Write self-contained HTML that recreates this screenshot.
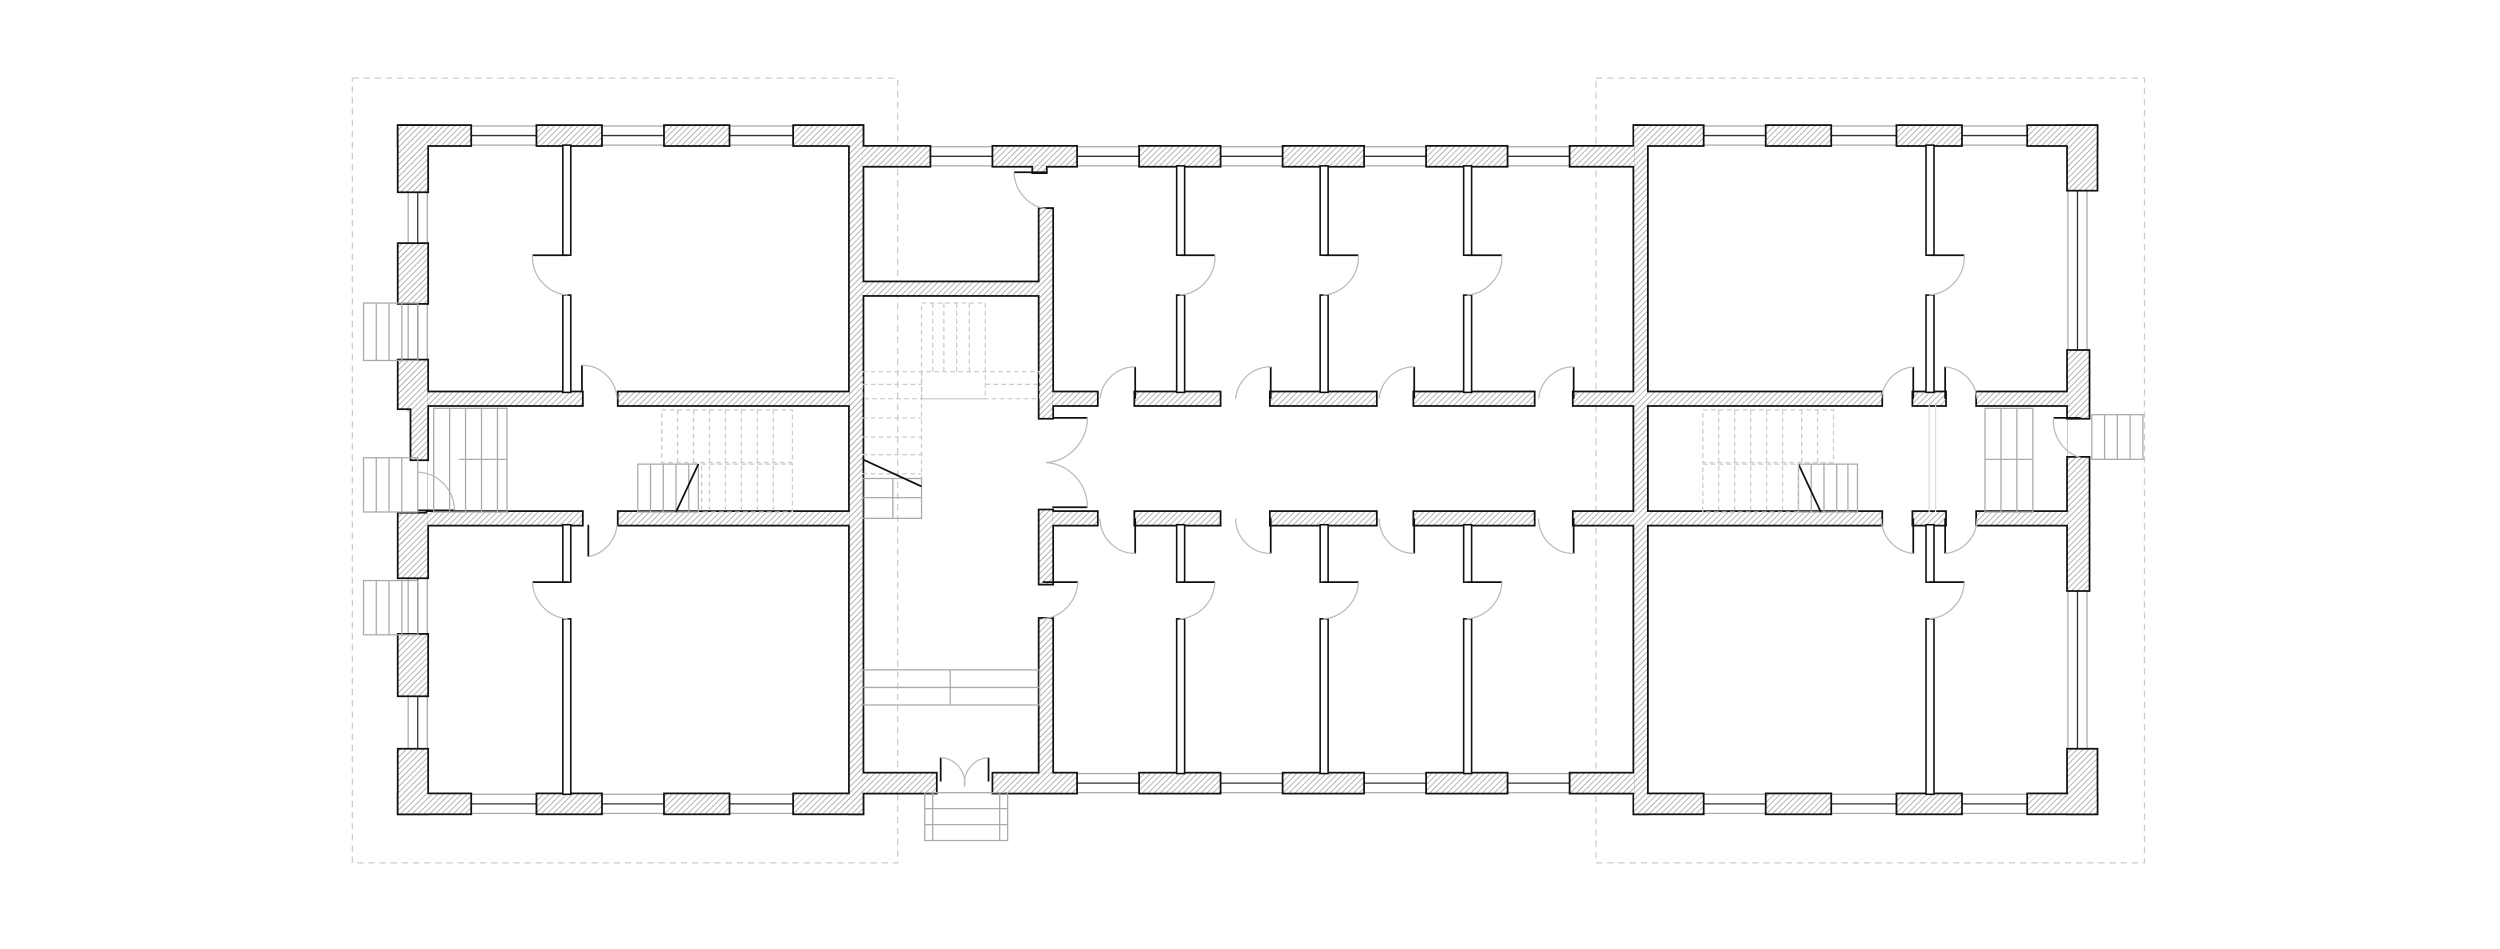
<!DOCTYPE html>
<html><head><meta charset="utf-8"><style>
html,body{margin:0;padding:0;background:#fff;width:2500px;height:949px;overflow:hidden}
svg{display:block}
.p{fill:#fff;stroke:#111;stroke-width:1}
.g{fill:none;stroke:#aaa;stroke-width:0.8}
.d{fill:none;stroke:#ccc;stroke-width:0.8;stroke-dasharray:3 2}
.a{fill:none;stroke:#bbb;stroke-width:0.8}
.k{fill:none;stroke:#111;stroke-width:1.1}
.wl{stroke:#333;stroke-width:0.8}
</style></head><body>
<svg width="2500" height="949" viewBox="0 0 1568 595" preserveAspectRatio="none" xmlns="http://www.w3.org/2000/svg" xmlns:xlink="http://www.w3.org/1999/xlink">
<defs>
<pattern id="h" width="2.6" height="2.6" patternUnits="userSpaceOnUse" patternTransform="rotate(45)">
<rect width="2.6" height="2.6" fill="#fff"/><line x1="0" y1="0" x2="0" y2="2.6" stroke="#999" stroke-width="0.9"/>
</pattern>
<g id="W">
<!-- left block -->
<rect x="250" y="79" width="45" height="12"/>
<rect x="337" y="79" width="40" height="12"/>
<rect x="417" y="79" width="40" height="12"/>
<rect x="498" y="79" width="43" height="12"/>
<rect x="250" y="498" width="45" height="12"/>
<rect x="337" y="498" width="40" height="12"/>
<rect x="417" y="498" width="40" height="12"/>
<rect x="498" y="498" width="43" height="12"/>
<rect x="250" y="79" width="18" height="41"/>
<rect x="250" y="153" width="18" height="37"/>
<rect x="250" y="226" width="18" height="30"/>
<rect x="258" y="254" width="10" height="34"/>
<rect x="250" y="322" width="18" height="40"/>
<rect x="250" y="398" width="18" height="38"/>
<rect x="250" y="470" width="18" height="40"/>
<rect x="533" y="79" width="8" height="431"/>
<rect x="268" y="246" width="97" height="8"/>
<rect x="388" y="246" width="145" height="8"/>
<rect x="268" y="321" width="97" height="8"/>
<rect x="388" y="321" width="145" height="8"/>
<!-- center -->
<rect x="541" y="92" width="42" height="12"/>
<rect x="623" y="92" width="52" height="12"/>
<rect x="715" y="92" width="50" height="12"/>
<rect x="805" y="92" width="50" height="12"/>
<rect x="895" y="92" width="50" height="12"/>
<rect x="985" y="92" width="40" height="12"/>
<rect x="648" y="104" width="8" height="4"/>
<rect x="541" y="485" width="46" height="12"/>
<rect x="623" y="485" width="52" height="12"/>
<rect x="715" y="485" width="50" height="12"/>
<rect x="805" y="485" width="50" height="12"/>
<rect x="895" y="485" width="50" height="12"/>
<rect x="985" y="485" width="40" height="12"/>
<rect x="652" y="131" width="8" height="131"/>
<rect x="541" y="177" width="111" height="8"/>
<rect x="652" y="320" width="8" height="46"/>
<rect x="652" y="388" width="8" height="97"/>
<rect x="660" y="246" width="28" height="8"/>
<rect x="712" y="246" width="53" height="8"/>
<rect x="797" y="246" width="66" height="8"/>
<rect x="887" y="246" width="75" height="8"/>
<rect x="987" y="246" width="46" height="8"/>
<rect x="660" y="321" width="28" height="8"/>
<rect x="712" y="321" width="53" height="8"/>
<rect x="797" y="321" width="66" height="8"/>
<rect x="887" y="321" width="75" height="8"/>
<rect x="987" y="321" width="46" height="8"/>
<!-- right block -->
<rect x="1025" y="79" width="8" height="431"/>
<rect x="1025" y="79" width="43" height="12"/>
<rect x="1108" y="79" width="40" height="12"/>
<rect x="1190" y="79" width="40" height="12"/>
<rect x="1272" y="79" width="43" height="12"/>
<rect x="1025" y="498" width="43" height="12"/>
<rect x="1108" y="498" width="40" height="12"/>
<rect x="1190" y="498" width="40" height="12"/>
<rect x="1272" y="498" width="43" height="12"/>
<rect x="1297" y="79" width="18" height="40"/>
<rect x="1297" y="220" width="13" height="42"/>
<rect x="1297" y="287" width="13" height="83"/>
<rect x="1297" y="470" width="18" height="40"/>
<rect x="1033" y="246" width="147" height="8"/>
<rect x="1200" y="246" width="20" height="8"/>
<rect x="1240" y="246" width="57" height="8"/>
<rect x="1033" y="321" width="147" height="8"/>
<rect x="1200" y="321" width="20" height="8"/>
<rect x="1240" y="321" width="57" height="8"/>
</g>
</defs>
<!-- dashed outlines -->
<rect x="221" y="49" width="342" height="492" fill="none" stroke="#ccc" stroke-width="0.8" stroke-dasharray="4 3"/>
<rect x="1001" y="49" width="344" height="492" fill="none" stroke="#ccc" stroke-width="0.8" stroke-dasharray="4 3"/>

<!-- windows -->
<g>
<rect x="250" y="79" width="291" height="12" class="g"/>
<line x1="250" y1="85" x2="541" y2="85" class="wl"/>
<rect x="250" y="498" width="291" height="12" class="g"/>
<line x1="250" y1="504" x2="541" y2="504" class="wl"/>
<rect x="256" y="79" width="12" height="431" class="g"/>
<line x1="262" y1="79" x2="262" y2="510" class="wl"/>
<rect x="541" y="92" width="484" height="12" class="g"/>
<line x1="541" y1="98" x2="1025" y2="98" class="wl"/>
<rect x="541" y="485" width="484" height="12" class="g"/>
<line x1="623" y1="491" x2="1025" y2="491" class="wl"/>
<rect x="1025" y="79" width="290" height="12" class="g"/>
<line x1="1025" y1="85" x2="1315" y2="85" class="wl"/>
<rect x="1025" y="498" width="290" height="12" class="g"/>
<line x1="1025" y1="504" x2="1315" y2="504" class="wl"/>
<rect x="1297" y="79" width="12" height="431" class="g"/>
<line x1="1303" y1="79" x2="1303" y2="510" class="wl"/>
</g>
<rect x="250" y="258" width="18" height="70" fill="#fff"/>
<rect x="1297" y="254" width="18" height="70" fill="#fff"/>
<rect x="587" y="484" width="36" height="14" fill="#fff"/>

<!-- walls merged -->
<use xlink:href="#W" href="#W" fill="#111" stroke="#111" stroke-width="2.2"/>
<use xlink:href="#W" href="#W" fill="url(#h)" stroke="none"/>

<!-- partitions -->
<rect class="p" x="353" y="91" width="5" height="69"/>
<rect class="p" x="353" y="185" width="5" height="61"/>
<rect class="p" x="353" y="329" width="5" height="36"/>
<rect class="p" x="353" y="388" width="5" height="110"/>
<rect class="p" x="738" y="104" width="5" height="56"/><rect class="p" x="738" y="185" width="5" height="61"/>
<rect class="p" x="738" y="329" width="5" height="36"/><rect class="p" x="738" y="388" width="5" height="97"/>
<rect class="p" x="828" y="104" width="5" height="56"/><rect class="p" x="828" y="185" width="5" height="61"/>
<rect class="p" x="828" y="329" width="5" height="36"/><rect class="p" x="828" y="388" width="5" height="97"/>
<rect class="p" x="918" y="104" width="5" height="56"/><rect class="p" x="918" y="185" width="5" height="61"/>
<rect class="p" x="918" y="329" width="5" height="36"/><rect class="p" x="918" y="388" width="5" height="97"/>
<rect class="p" x="1208" y="91" width="5" height="69"/>
<rect class="p" x="1208" y="185" width="5" height="61"/>
<rect class="p" x="1208" y="329" width="5" height="36"/>
<rect class="p" x="1208" y="388" width="5" height="110"/>

<!-- left doors -->
<line x1="334" y1="160" x2="356" y2="160" class="k"/>
<path d="M334 160 A24 24 0 0 0 356 185" class="a"/>
<line x1="334" y1="365" x2="356" y2="365" class="k"/>
<path d="M334 365 A24 24 0 0 0 356 388" class="a"/>
<line x1="365" y1="229" x2="365" y2="246" class="k"/>
<path d="M365 229 A22 22 0 0 1 387 250" class="a"/>
<line x1="369" y1="329" x2="369" y2="349" class="k"/>
<path d="M369 349 A22 22 0 0 0 387 329" class="a"/>
<line x1="262" y1="320" x2="285" y2="320" class="k"/>
<path d="M262 296 A24 24 0 0 1 285 320" class="a"/>
<!-- left stairs -->
<g class="g">
<rect x="272" y="256" width="46" height="65"/>
<line x1="282" y1="256" x2="282" y2="321"/><line x1="292" y1="256" x2="292" y2="321"/><line x1="302" y1="256" x2="302" y2="321"/><line x1="312" y1="256" x2="312" y2="321"/>
<line x1="288" y1="288" x2="318" y2="288"/>
<rect x="400" y="291" width="38" height="30"/>
<line x1="408" y1="291" x2="408" y2="321"/><line x1="416" y1="291" x2="416" y2="321"/><line x1="424" y1="291" x2="424" y2="321"/><line x1="432" y1="291" x2="432" y2="321"/>
<rect x="228" y="190" width="34" height="36"/>
<line x1="236" y1="190" x2="236" y2="226"/><line x1="244" y1="190" x2="244" y2="226"/><line x1="252" y1="190" x2="252" y2="226"/>
<rect x="228" y="287" width="34" height="34"/>
<line x1="236" y1="287" x2="236" y2="321"/><line x1="244" y1="287" x2="244" y2="321"/><line x1="252" y1="287" x2="252" y2="321"/>
<rect x="228" y="364" width="34" height="34"/>
<line x1="236" y1="364" x2="236" y2="398"/><line x1="244" y1="364" x2="244" y2="398"/><line x1="252" y1="364" x2="252" y2="398"/>
</g>
<line x1="438" y1="291" x2="424" y2="321" class="k"/>
<g class="d">
<rect x="415" y="257" width="82" height="33"/>
<rect x="440" y="291" width="57" height="30"/>
<line x1="425" y1="257" x2="425" y2="290"/><line x1="435" y1="257" x2="435" y2="290"/><line x1="445" y1="257" x2="445" y2="321"/><line x1="455" y1="257" x2="455" y2="321"/><line x1="465" y1="257" x2="465" y2="321"/><line x1="475" y1="257" x2="475" y2="321"/><line x1="485" y1="257" x2="485" y2="321"/>
</g>

<!-- center doors -->
<g>
<line x1="740" y1="160" x2="762" y2="160" class="k"/><path d="M762 160 A24 24 0 0 1 740 185" class="a"/>
<line x1="830" y1="160" x2="852" y2="160" class="k"/><path d="M852 160 A24 24 0 0 1 830 185" class="a"/>
<line x1="920" y1="160" x2="942" y2="160" class="k"/><path d="M942 160 A24 24 0 0 1 920 185" class="a"/>
<line x1="740" y1="365" x2="762" y2="365" class="k"/><path d="M762 365 A24 24 0 0 1 740 388" class="a"/>
<line x1="830" y1="365" x2="852" y2="365" class="k"/><path d="M852 365 A24 24 0 0 1 830 388" class="a"/>
<line x1="920" y1="365" x2="942" y2="365" class="k"/><path d="M942 365 A24 24 0 0 1 920 388" class="a"/>
<line x1="654" y1="365" x2="676" y2="365" class="k"/><path d="M676 365 A24 24 0 0 1 654 388" class="a"/>
<line x1="636" y1="108" x2="656" y2="108" class="k"/><path d="M636 108 A24 24 0 0 0 656 131" class="a"/>
<line x1="712" y1="230" x2="712" y2="250" class="k"/><path d="M712 230 A22 22 0 0 0 690 250" class="a"/>
<line x1="797" y1="230" x2="797" y2="250" class="k"/><path d="M797 230 A22 22 0 0 0 775 250" class="a"/>
<line x1="887" y1="230" x2="887" y2="250" class="k"/><path d="M887 230 A22 22 0 0 0 865 250" class="a"/>
<line x1="987" y1="230" x2="987" y2="250" class="k"/><path d="M987 230 A22 22 0 0 0 965 250" class="a"/>
<line x1="712" y1="325" x2="712" y2="347" class="k"/><path d="M712 347 A22 22 0 0 1 690 325" class="a"/>
<line x1="797" y1="325" x2="797" y2="347" class="k"/><path d="M797 347 A22 22 0 0 1 775 325" class="a"/>
<line x1="887" y1="325" x2="887" y2="347" class="k"/><path d="M887 347 A22 22 0 0 1 865 325" class="a"/>
<line x1="987" y1="325" x2="987" y2="347" class="k"/><path d="M987 347 A22 22 0 0 1 965 325" class="a"/>
<line x1="660" y1="262" x2="682" y2="262" class="k"/><path d="M682 262 A28 28 0 0 1 656 290" class="a"/>
<line x1="660" y1="318" x2="682" y2="318" class="k"/><path d="M682 318 A28 28 0 0 0 656 290" class="a"/>
<line x1="590" y1="475" x2="590" y2="490" class="k"/><line x1="620" y1="475" x2="620" y2="490" class="k"/>
<path d="M590 475 A16 16 0 0 1 605 493" class="a"/><path d="M620 475 A16 16 0 0 0 605 493" class="a"/>
</g>
<!-- center stairs -->
<g class="d">
<rect x="541" y="233" width="111" height="17"/>
<rect x="578" y="190" width="40" height="60"/>
<line x1="585" y1="190" x2="585" y2="233"/><line x1="592" y1="190" x2="592" y2="233"/><line x1="600" y1="190" x2="600" y2="233"/><line x1="608" y1="190" x2="608" y2="233"/>
<line x1="541" y1="241" x2="578" y2="241"/><line x1="618" y1="241" x2="652" y2="241"/>
<line x1="578" y1="233" x2="578" y2="300"/>
<line x1="541" y1="262" x2="578" y2="262"/><line x1="541" y1="274" x2="578" y2="274"/><line x1="541" y1="285" x2="578" y2="285"/><line x1="541" y1="297" x2="578" y2="297"/>
</g>
<g class="g">
<rect x="541" y="300" width="37" height="25"/>
<line x1="541" y1="312" x2="578" y2="312"/><line x1="560" y1="300" x2="560" y2="325"/>
<rect x="541" y="420" width="111" height="22"/>
<line x1="541" y1="431" x2="652" y2="431"/><line x1="596" y1="420" x2="596" y2="442"/>
<rect x="580" y="497" width="52" height="30"/>
<line x1="580" y1="507" x2="632" y2="507"/><line x1="580" y1="517" x2="632" y2="517"/>
<line x1="585" y1="497" x2="585" y2="527"/><line x1="627" y1="497" x2="627" y2="527"/>
</g>
<line x1="541" y1="288" x2="578" y2="305" class="k"/>

<!-- right block details -->
<line x1="1210" y1="254" x2="1210" y2="321" stroke="#ddd" stroke-width="0.8"/>
<line x1="1214" y1="254" x2="1214" y2="321" stroke="#ddd" stroke-width="0.8"/>
<g>
<line x1="1210" y1="160" x2="1232" y2="160" class="k"/><path d="M1232 160 A24 24 0 0 1 1210 185" class="a"/>
<line x1="1210" y1="365" x2="1232" y2="365" class="k"/><path d="M1232 365 A24 24 0 0 1 1210 388" class="a"/>
<line x1="1200" y1="230" x2="1200" y2="250" class="k"/><path d="M1200 230 A22 22 0 0 0 1180 250" class="a"/>
<line x1="1220" y1="230" x2="1220" y2="250" class="k"/><path d="M1220 230 A22 22 0 0 1 1240 250" class="a"/>
<line x1="1200" y1="325" x2="1200" y2="347" class="k"/><path d="M1200 347 A22 22 0 0 1 1180 325" class="a"/>
<line x1="1220" y1="325" x2="1220" y2="347" class="k"/><path d="M1220 347 A22 22 0 0 0 1240 325" class="a"/>
<line x1="1288" y1="262" x2="1305" y2="262" class="k"/><path d="M1288 262 A24 24 0 0 0 1305 287" class="a"/>
</g>
<g class="g">
<rect x="1245" y="256" width="30" height="65"/>
<line x1="1255" y1="256" x2="1255" y2="321"/><line x1="1265" y1="256" x2="1265" y2="321"/>
<line x1="1245" y1="288" x2="1275" y2="288"/>
<rect x="1128" y="291" width="37" height="30"/>
<line x1="1136" y1="291" x2="1136" y2="321"/><line x1="1144" y1="291" x2="1144" y2="321"/><line x1="1152" y1="291" x2="1152" y2="321"/><line x1="1159" y1="291" x2="1159" y2="321"/>
<rect x="1312" y="260" width="32" height="28"/>
<line x1="1320" y1="260" x2="1320" y2="288"/><line x1="1328" y1="260" x2="1328" y2="288"/><line x1="1336" y1="260" x2="1336" y2="288"/>
</g>
<line x1="1128" y1="291" x2="1142" y2="321" class="k"/>
<g class="d">
<rect x="1068" y="257" width="82" height="33"/>
<rect x="1068" y="291" width="60" height="30"/>
<line x1="1078" y1="257" x2="1078" y2="321"/><line x1="1088" y1="257" x2="1088" y2="321"/><line x1="1098" y1="257" x2="1098" y2="321"/><line x1="1108" y1="257" x2="1108" y2="321"/><line x1="1118" y1="257" x2="1118" y2="321"/><line x1="1130" y1="257" x2="1130" y2="290"/><line x1="1140" y1="257" x2="1140" y2="290"/>
</g>
</svg>
</body></html>
